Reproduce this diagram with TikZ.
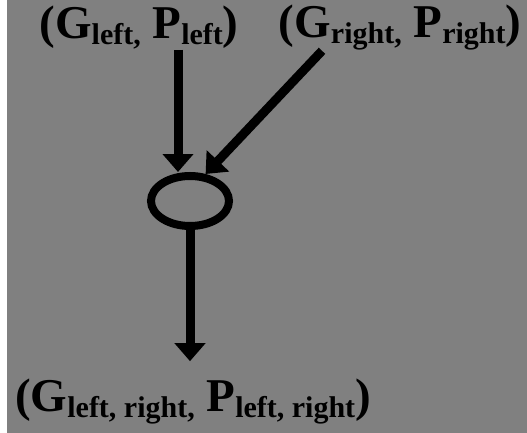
\documentclass[tikz,border=0pt]{standalone}
\usepackage{fontspec}
\setmainfont{Liberation Serif}
\usetikzlibrary{arrows.meta,shapes.geometric}
\definecolor{bggray}{RGB}{128,128,128}
\newcommand{\lowtxt}[1]{\raisebox{-6pt}{\fontsize{30pt}{30pt}\selectfont #1}}
\begin{document}
\begin{tikzpicture}[x=1pt,y=-1pt,
  lbl/.style={inner sep=0pt,font=\fontsize{47pt}{47pt}\selectfont\bfseries},
  arr/.style={line width=9pt,-{Triangle[width=30pt,length=18pt]}}]
  % Background
  \useasboundingbox (0,0) rectangle (527,433);
  \fill[white] (0,0) rectangle (7,433);
  \fill[bggray] (7,0) rectangle (527,433);
  % Inputs
  \node[lbl] (lt) at (139,28) {(G\lowtxt{left,} P\lowtxt{left})};
  \node[lbl] (rt) at (400,28) {(G\lowtxt{right,} P\lowtxt{right})};
  % Combine
  \node[draw,ellipse,line width=8pt,minimum width=78pt,minimum height=50pt,inner sep=0pt] (cir) at (190,201) {};
  % Output
  \node[lbl] (out) at (193,402) {(G\lowtxt{left, right,} P\lowtxt{left, right})};
  % Arrows
  \draw[arr] ([xshift=39pt]lt.south) -- ([xshift=39pt]lt.south |- cir.north);
  \draw[arr] ([xshift=-78pt]rt.south) -- (cir.60);
  \draw[arr,shorten >=18pt] (cir.south) -- (cir.south |- out.north);
\end{tikzpicture}
\end{document}
